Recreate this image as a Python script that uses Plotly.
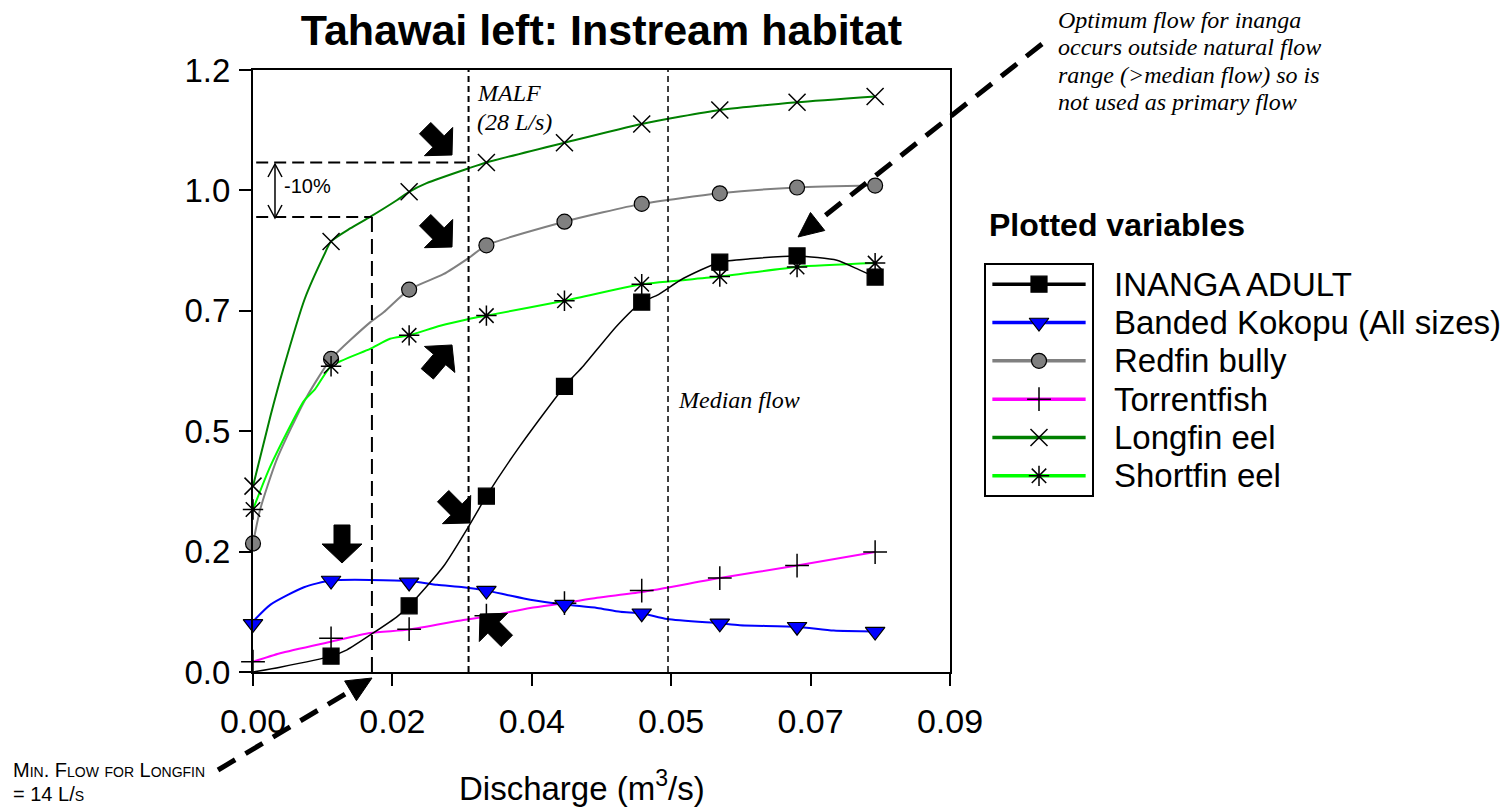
import math
import plotly.graph_objects as go

# ---------------- data ----------------
discharge = [0, 0.0098, 0.0196, 0.0293, 0.0391, 0.0488, 0.0586, 0.0683, 0.0781]

inanga_pts = [None, 0.033, 0.1375, 0.365, 0.593, 0.768, 0.851, 0.864, 0.820]
banded_pts = [0.10, 0.19, 0.186, 0.169, 0.14, 0.122, 0.101, 0.094, 0.084]
redfin_pts = [0.267, 0.65, 0.794, 0.886, 0.935, 0.972, 0.994, 1.006, 1.01]
torrent_pts = [0.0215, 0.07, 0.089, 0.117, 0.143, 0.169, 0.195, 0.221, 0.249]
longfin_pts = [0.386, 0.894, 0.997, 1.058, 1.099, 1.138, 1.167, 1.183, 1.195]
shortfin_pts = [0.3375, 0.635, 0.699, 0.740, 0.771, 0.805, 0.821, 0.841, 0.849]

# dense curve readings (x, y)
inanga_x = [0, 0.0034, 0.0098, 0.0118, 0.0151, 0.0181, 0.0196, 0.0239, 0.0271, 0.0293,
            0.0335, 0.0391, 0.0415, 0.0457, 0.0488, 0.0507, 0.0540, 0.0586, 0.0624,
            0.0683, 0.0733, 0.0758, 0.0781]
inanga_y = [0.0, 0.01, 0.033, 0.046, 0.081, 0.115, 0.1375, 0.219, 0.303, 0.365,
            0.469, 0.593, 0.636, 0.719, 0.768, 0.782, 0.817, 0.851, 0.858,
            0.864, 0.855, 0.8375, 0.820]

banded_x = [0, 0.0022, 0.0064, 0.0098, 0.0196, 0.0231, 0.0264, 0.0293, 0.0319, 0.0348,
            0.0391, 0.0432, 0.0461, 0.0488, 0.0520, 0.0586, 0.0611, 0.0683, 0.0729, 0.0781]
banded_y = [0.105, 0.14, 0.176, 0.19, 0.189, 0.181, 0.176, 0.169, 0.160, 0.15,
            0.14, 0.133, 0.125, 0.122, 0.110, 0.101, 0.097, 0.094, 0.086, 0.084]

redfin_x = [0, 0.0009, 0.0030, 0.0066, 0.0098, 0.0147, 0.0164, 0.0196, 0.0239, 0.0271,
            0.0293, 0.0391, 0.0488, 0.0586, 0.0683, 0.0781]
redfin_y = [0.267, 0.3375, 0.442, 0.567, 0.65, 0.726, 0.747, 0.794, 0.826, 0.860,
            0.886, 0.935, 0.972, 0.994, 1.006, 1.01]

torrent_x = [0, 0.0034, 0.0098, 0.0147, 0.0196, 0.0264, 0.0293, 0.0348, 0.0391, 0.0432,
             0.0488, 0.0586, 0.0683, 0.0781]
torrent_y = [0.0215, 0.039, 0.063, 0.081, 0.088, 0.108, 0.115, 0.133, 0.143, 0.154,
             0.166, 0.195, 0.221, 0.249]

longfin_x = [0, 0.0022, 0.0038, 0.0065, 0.0089, 0.0098, 0.0122, 0.0147, 0.0181, 0.0196,
             0.0218, 0.0271, 0.0293, 0.0391, 0.0488, 0.0586, 0.0683, 0.0781]
longfin_y = [0.386, 0.532, 0.629, 0.775, 0.865, 0.894, 0.921, 0.945, 0.980, 0.997,
             1.015, 1.046, 1.058, 1.099, 1.138, 1.167, 1.183, 1.195]

shortfin_x = [0, 0.0022, 0.0064, 0.0078, 0.0098, 0.0147, 0.0172, 0.0196, 0.0235, 0.0271,
              0.0293, 0.0391, 0.0488, 0.0586, 0.0683, 0.0781]
shortfin_y = [0.3375, 0.428, 0.563, 0.5875, 0.635, 0.671, 0.692, 0.699, 0.719, 0.733,
              0.740, 0.771, 0.805, 0.821, 0.841, 0.849]

names = ["INANGA ADULT", "Banded Kokopu (All sizes)", "Redfin bully",
         "Torrentfish", "Longfin eel", "Shortfin eel"]

x_tickvals = [0, 0.0175, 0.035, 0.0525, 0.07, 0.0875]
x_ticktext = ["0.00", "0.02", "0.04", "0.05", "0.07", "0.09"]
y_tickvals = [0, 0.25, 0.5, 0.75, 1.0, 1.25]
y_ticktext = ["0.0", "0.2", "0.5", "0.7", "1.0", "1.2"]

min_flow = 0.01493
malf = 0.02706
median_flow = 0.0521
longfin_at_malf = 1.058
longfin_90pct = 0.945

# ---------------- styling ----------------
SANS = "Liberation Sans, Arial, sans-serif"
SERIF = "Liberation Serif, Times New Roman, serif"

styles = [
    dict(color="black", lw=1.5, symbol="square", msize=16, mfill="black"),
    dict(color="#0000FF", lw=2, symbol="triangle-down", msize=17, mfill="#0000FF"),
    dict(color="#808080", lw=2, symbol="circle", msize=15, mfill="#808080"),
    dict(color="#FF00FF", lw=2, symbol="cross-thin", msize=17, mfill="black"),
    dict(color="#008000", lw=2, symbol="x-thin", msize=17, mfill="black"),
    dict(color="#00FF00", lw=2, symbol="asterisk", msize=17, mfill="black"),
]

series_lines = [(inanga_x, inanga_y), (banded_x, banded_y), (redfin_x, redfin_y),
                (torrent_x, torrent_y), (longfin_x, longfin_y), (shortfin_x, shortfin_y)]
series_pts = [inanga_pts, banded_pts, redfin_pts, torrent_pts, longfin_pts, shortfin_pts]

W, H = 1502, 811
ML, MR, MT, MB = 253, 0, 70, 139
PW = W - ML - MR
PH = H - MT - MB
PLOT_W = 697


def px(x):
    return (x - ML) / PW


def py(y):
    return (H - MB - y) / PH


fig = go.Figure()

order = [2, 5, 4, 3, 1, 0]
for i in order:
    st = styles[i]
    lx, ly = series_lines[i]
    fig.add_trace(go.Scatter(x=lx, y=ly, mode="lines",
                             line=dict(color=st["color"], width=st["lw"], shape="spline", smoothing=0.6),
                             showlegend=False, hoverinfo="skip", xaxis="x", yaxis="y"))
for i in order:
    st = styles[i]
    thin = st["symbol"] in ("cross-thin", "x-thin", "asterisk")
    fig.add_trace(go.Scatter(x=discharge, y=series_pts[i], mode="markers", name=names[i],
                             marker=dict(symbol=st["symbol"], size=st["msize"], color=st["mfill"],
                                         line=dict(color="black", width=1.5 if thin else 1.2)),
                             cliponaxis=False, showlegend=False, xaxis="x", yaxis="y"))

# manual legend swatches on an overlay axis
for k, st in enumerate(styles, start=1):
    thin = st["symbol"] in ("cross-thin", "x-thin", "asterisk")
    fig.add_trace(go.Scatter(x=[0.06, 0.94], y=[k, k], mode="lines",
                             line=dict(color=st["color"], width=3.5),
                             showlegend=False, hoverinfo="skip", xaxis="x2", yaxis="y2"))
    fig.add_trace(go.Scatter(x=[0.5], y=[k], mode="markers",
                             marker=dict(symbol=st["symbol"], size=st["msize"], color=st["mfill"],
                                         line=dict(color="black", width=1.5 if thin else 1.2)),
                             showlegend=False, hoverinfo="skip", xaxis="x2", yaxis="y2"))

shapes = []
shapes.append(dict(type="line", xref="x", yref="y", x0=malf, x1=malf, y0=0, y1=1.25,
                   line=dict(color="black", width=2, dash="6px,4px")))
shapes.append(dict(type="line", xref="x", yref="y", x0=median_flow, x1=median_flow, y0=0, y1=1.25,
                   line=dict(color="black", width=1.5, dash="6px,4px")))
shapes.append(dict(type="line", xref="x", yref="y", x0=min_flow, x1=min_flow, y0=0, y1=longfin_90pct,
                   line=dict(color="black", width=2, dash="15px,7px")))
shapes.append(dict(type="line", xref="x", yref="y", x0=0.0004, x1=min_flow, y0=longfin_90pct, y1=longfin_90pct,
                   line=dict(color="black", width=2, dash="12px,6px")))
shapes.append(dict(type="line", xref="x", yref="y", x0=0.0004, x1=malf, y0=longfin_at_malf, y1=longfin_at_malf,
                   line=dict(color="black", width=2, dash="12px,6px")))


def path_from_pixels(pts, close=True):
    s = "M " + " L ".join(f"{px(x):.5f},{py(y):.5f}" for x, y in pts)
    return s + (" Z" if close else "")


def block_arrow(tip, u, head_len=19, head_w=40, body_w=16, body_len=19):
    ux, uy = u
    n = math.hypot(ux, uy)
    ux, uy = ux / n, uy / n
    nx, ny = -uy, ux
    tx, ty = tip
    bx, by = tx - ux * head_len, ty - uy * head_len
    ex, ey = bx - ux * body_len, by - uy * body_len
    pts = [(tx, ty),
           (bx + nx * head_w / 2, by + ny * head_w / 2),
           (bx + nx * body_w / 2, by + ny * body_w / 2),
           (ex + nx * body_w / 2, ey + ny * body_w / 2),
           (ex - nx * body_w / 2, ey - ny * body_w / 2),
           (bx - nx * body_w / 2, by - ny * body_w / 2),
           (bx - nx * head_w / 2, by - ny * head_w / 2)]
    return dict(type="path", xref="paper", yref="paper", path=path_from_pixels(pts),
                fillcolor="black", line=dict(color="black", width=1))


shapes.append(block_arrow((452, 155), (1, 1)))
shapes.append(block_arrow((452, 247), (1, 1)))
shapes.append(block_arrow((452, 345), (0.65, -0.76)))
shapes.append(block_arrow((342, 563), (0, 1)))
shapes.append(block_arrow((470, 523), (1, 1)))
shapes.append(block_arrow((480, 614), (-1, -1)))


def dashed_arrow(start, tip, head_len=25, head_w=23):
    sx, sy = start
    tx, ty = tip
    d = math.hypot(tx - sx, ty - sy)
    ux, uy = (tx - sx) / d, (ty - sy) / d
    nx, ny = -uy, ux
    bx, by = tx - ux * head_len, ty - uy * head_len
    out = [dict(type="line", xref="paper", yref="paper", x0=px(sx), y0=py(sy), x1=px(bx), y1=py(by),
                line=dict(color="black", width=5, dash="20px,12px"))]
    tri = [(tx, ty), (bx + nx * head_w / 2, by + ny * head_w / 2), (bx - nx * head_w / 2, by - ny * head_w / 2)]
    out.append(dict(type="path", xref="paper", yref="paper", path=path_from_pixels(tri),
                    fillcolor="black", line=dict(color="black", width=1)))
    return out


shapes += dashed_arrow((218, 770), (372, 678))
shapes += dashed_arrow((1042, 44), (798, 237))

# double-headed -10% arrow
shapes.append(dict(type="path", xref="paper", yref="paper",
                   path=path_from_pixels([(275, 164), (275, 218)], close=False),
                   line=dict(color="black", width=1.5)))
shapes.append(dict(type="path", xref="paper", yref="paper",
                   path=path_from_pixels([(268, 177), (275, 164), (282, 177)], close=False),
                   line=dict(color="black", width=1.5)))
shapes.append(dict(type="path", xref="paper", yref="paper",
                   path=path_from_pixels([(268, 205), (275, 218), (282, 205)], close=False),
                   line=dict(color="black", width=1.5)))

annotations = []


def ann(text, x, y, size, family=SANS, xanchor="left", yanchor="middle", **kw):
    annotations.append(dict(text=text, x=px(x), y=py(y), xref="paper", yref="paper",
                            xanchor=xanchor, yanchor=yanchor, showarrow=False,
                            font=dict(family=family, size=size, color="black", **kw)))


ann("-10%", 282, 186, 20)
ann("<i>MALF</i>", 475, 93, 24, family=SERIF)
ann("<i>(28 L/s)</i>", 475, 122, 24, family=SERIF)
ann("<i>Median flow</i>", 676, 400, 24, family=SERIF)
for txt, yy in zip(["Optimum flow for inanga", "occurs outside natural flow",
                    "range (&gt;median flow) so is", "not used as primary flow"],
                   [20, 47, 75, 102]):
    ann(f"<i>{txt}</i>", 1056, yy, 24, family=SERIF)
ann("Min. Flow for Longfin", 11, 770, 20, variant="small-caps")
ann("= 14 L/s", 11, 794, 20, variant="small-caps")
ann("Discharge (m<sup>3</sup>/s)", 582, 786, 33, xanchor="center")
ann("<b>Plotted variables</b>", 987, 225, 32)
for k, nm in enumerate(names, start=1):
    annotations.append(dict(text=nm, x=px(1112), y=k, xref="paper", yref="y2",
                            xanchor="left", yanchor="middle", showarrow=False,
                            font=dict(family=SANS, size=33, color="black")))

fig.update_layout(
    width=W, height=H, autosize=False,
    margin=dict(l=ML, r=MR, t=MT, b=MB, pad=0, autoexpand=False),
    paper_bgcolor="white", plot_bgcolor="white",
    showlegend=False,
    title=dict(text="<b>Tahawai left: Instream habitat</b>", x=601.5 / W, xref="container",
               y=1 - 30 / H, yref="container", xanchor="center", yanchor="middle",
               font=dict(family=SANS, size=43, color="black")),
    xaxis=dict(domain=[0, PLOT_W / PW], range=[0, 0.0875], tickvals=x_tickvals, ticktext=x_ticktext,
               showline=True, linecolor="black", linewidth=2, mirror=True,
               ticks="outside", ticklen=12, tickwidth=2, tickcolor="black",
               showgrid=False, zeroline=False, ticklabelstandoff=6, automargin=False,
               tickfont=dict(family=SANS, size=34, color="black"), anchor="y"),
    yaxis=dict(domain=[0, 1], range=[0, 1.25], tickvals=y_tickvals, ticktext=y_ticktext,
               showline=True, linecolor="black", linewidth=2, mirror=True,
               ticks="outside", ticklen=12, tickwidth=2, tickcolor="black",
               showgrid=False, zeroline=False, ticklabelstandoff=2, automargin=False,
               tickfont=dict(family=SANS, size=33, color="black"), anchor="x"),
    xaxis2=dict(domain=[px(986), px(1092)], range=[0, 1], anchor="y2", automargin=False,
                showline=True, linecolor="black", linewidth=2, mirror=True,
                showticklabels=False, ticks="", showgrid=False, zeroline=False, fixedrange=True),
    yaxis2=dict(domain=[py(495), py(265)], range=[6.5, 0.5], anchor="x2", automargin=False,
                showline=True, linecolor="black", linewidth=2, mirror=True,
                showticklabels=False, ticks="", showgrid=False, zeroline=False, fixedrange=True),
    shapes=shapes,
    annotations=annotations,
)

fig.write_html("out.html")
